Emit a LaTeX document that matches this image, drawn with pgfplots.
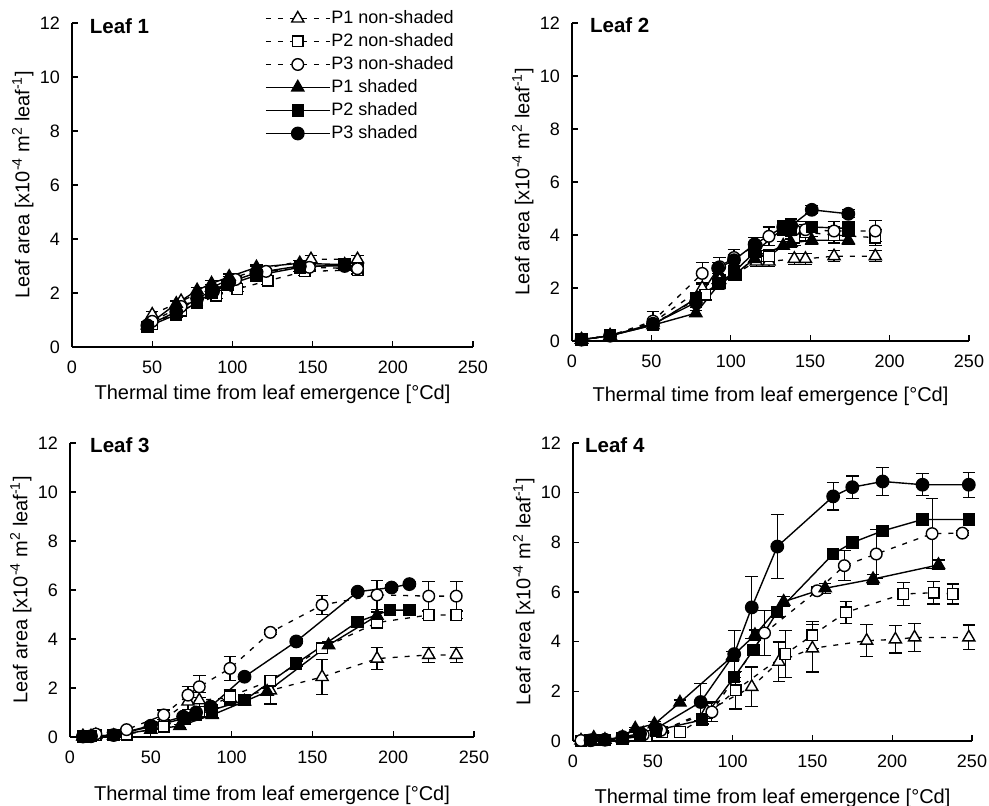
\documentclass[border=0pt]{standalone}
\usepackage{fontspec}
\setmainfont{Liberation Sans}
\usepackage{pgfplots}
\pgfplotsset{compat=1.18}
\tikzset{leaftitle/.style={anchor=west, font=\fontsize{20.5}{23}\selectfont\bfseries, inner sep=0pt}}
\pgfplotsset{
  leafax/.style={
    scale only axis, clip=false,
    xmin=0,xmax=250,ymin=0,ymax=12,
    axis x line*=bottom, axis y line*=left,
    axis line style={line width=1.3pt, -},
    xtick={0,50,...,250}, ytick={0,2,...,12},
    tick align=inside, major tick length=6pt,
    every tick/.style={line width=1.3pt, black},
    /pgf/number format/assume math mode=true,
    yticklabel style={xshift=-6pt},
    xticklabel style={yshift=-8pt},
    xlabel={Thermal time from leaf emergence [°Cd]},
    ylabel={Leaf area [x10\textsuperscript{-4} m\textsuperscript{2} leaf\textsuperscript{-1}]},
    label style={font=\fontsize{20}{23}\selectfont},
    ylabel style={yshift=-6pt},
  },
  eb/.style={error bars/.cd, y dir=both, y explicit,
    error bar style={solid, line width=1.2pt},
    error mark options={solid, line width=1.2pt, mark size=6.3pt, rotate=90}},
  ns/.style={black, line width=1.3pt, dash pattern=on 5pt off 7pt},
  sh/.style={black, line width=1.4pt, solid},
  p1n/.style={ns, mark=triangle*, mark size=7pt, mark options={solid, fill=white, line width=1.4pt}},
  p2n/.style={ns, mark=square*, mark size=5.3pt, mark options={solid, fill=white, line width=1.4pt}},
  p3n/.style={ns, mark=*, mark size=5.8pt, mark options={solid, fill=white, line width=1.4pt}},
  p1s/.style={sh, mark=triangle*, mark size=7pt, mark options={solid, fill=black}},
  p2s/.style={sh, mark=square*, mark size=5.5pt, mark options={solid, fill=black}},
  p3s/.style={sh, mark=*, mark size=6.2pt, mark options={solid, fill=black}},
}
\begin{document}
\fontsize{18}{21}\selectfont
\begin{tikzpicture}
\useasboundingbox (0pt,0pt) rectangle (989pt,806pt);
% ---------------- Leaf 1
\begin{axis}[leafax, at={(72pt,459pt)}, anchor=south west, width=401pt, height=324pt,
  xlabel style={yshift=1pt},
  legend style={at={(0.481,1.05)}, anchor=north west, draw=none, fill=none,
    inner sep=0pt, row sep=0pt, font=\fontsize{18}{21}\selectfont,
    nodes={inner xsep=1pt, inner ysep=2.5pt, text height=14pt, text depth=4pt}},
  legend cell align=left,
  legend image code/.code={\draw[#1, mark repeat=2, mark phase=2] plot coordinates {(0pt,0pt) (32pt,0pt) (64pt,0pt)};}]
\addplot[p1n, eb] table[y error=e] {
x y e
50 1.20 0.10
68 1.70 0.10
87 2.20 0.10
98 2.50 0.10
115 2.85 0.15
149 3.25 0.15
178 3.25 0.15
};
\addplot[p2n, eb] table[y error=e] {
x y e
50 0.85 0.10
68 1.35 0.10
90 1.90 0.10
103 2.15 0.10
122 2.45 0.15
145 2.80 0.15
178 2.85 0.15
};
\addplot[p3n, eb] table[y error=e] {
x y e
50 0.95 0.10
68 1.50 0.10
88 2.05 0.10
102 2.50 0.10
121 2.80 0.10
148 2.95 0.10
178 2.90 0.10
};
\addplot[p1s, eb] table[y error=e] {
x y e
47 0.80 0.10
65 1.60 0.10
78 2.10 0.10
87 2.35 0.10
98 2.60 0.10
115 2.95 0.10
142 3.10 0.10
170 3.05 0.10
};
\addplot[p2s, eb] table[y error=e] {
x y e
47 0.75 0.10
65 1.20 0.10
78 1.65 0.10
87 2.00 0.10
97 2.30 0.10
115 2.65 0.10
142 2.95 0.15
170 3.05 0.20
};
\addplot[p3s, eb] table[y error=e] {
x y e
47 0.80 0.10
65 1.30 0.10
78 1.80 0.10
88 2.10 0.10
98 2.40 0.10
115 2.75 0.10
142 3.00 0.10
170 3.00 0.10
};
\legend{P1 non-shaded, P2 non-shaded, P3 non-shaded, P1 shaded, P2 shaded, P3 shaded}
\node[leaftitle] at (axis cs:11,11.9) {Leaf 1};
\end{axis}
% ---------------- Leaf 2
\begin{axis}[leafax, at={(572pt,465pt)}, anchor=south west, width=397pt, height=318pt,
  xlabel style={yshift=-7pt}]
\addplot[p1n, eb] table[y error=e] {
x y e
6 0.05 0.05
24 0.20 0.05
51 0.70 0.10
82 2.00 0.20
93 2.30 0.20
102 2.50 0.20
116 3.00 0.20
124 3.00 0.20
140 3.10 0.20
147 3.10 0.20
165 3.20 0.20
191 3.20 0.20
};
\addplot[p2n, eb] table[y error=e] {
x y e
6 0.05 0.05
24 0.20 0.05
51 0.65 0.10
84 1.75 0.20
93 2.20 0.20
103 2.50 0.20
116 3.20 0.20
124 3.20 0.25
140 3.90 0.30
147 4.10 0.30
165 4.00 0.30
191 3.90 0.30
};
\addplot[p3n, eb] table[y error=e] {
x y e
6 0.05 0.05
24 0.20 0.05
51 0.75 0.35
82 2.55 0.40
93 2.80 0.35
102 3.15 0.30
116 3.60 0.30
124 3.95 0.35
140 4.20 0.30
147 4.20 0.30
165 4.15 0.35
191 4.15 0.40
};
\addplot[p1s, eb] table[y error=e] {
x y e
6 0.05 0.05
24 0.20 0.05
51 0.60 0.10
78 1.05 0.10
92 2.10 0.10
102 2.50 0.10
115 3.10 0.10
133 3.60 0.15
138 3.70 0.15
151 3.80 0.15
174 3.80 0.15
};
\addplot[p2s, eb] table[y error=e] {
x y e
6 0.05 0.05
24 0.20 0.05
51 0.60 0.10
78 1.60 0.20
92 2.15 0.15
102 2.60 0.15
115 3.35 0.20
133 4.25 0.25
138 4.20 0.25
151 4.30 0.20
174 4.25 0.25
};
\addplot[p3s, eb] table[y error=e] {
x y e
6 0.05 0.05
24 0.20 0.05
51 0.65 0.10
78 1.45 0.20
92 2.75 0.20
102 3.05 0.20
115 3.65 0.25
133 4.30 0.25
138 4.35 0.25
151 4.95 0.15
174 4.80 0.15
};
\node[leaftitle] at (axis cs:11.3,11.9) {Leaf 2};
\end{axis}
% ---------------- Leaf 3
\begin{axis}[leafax, at={(70pt,69pt)}, anchor=south west, width=404pt, height=294pt,
  xlabel style={yshift=-10pt}]
\addplot[p1n, eb] table[y error=e] {
x y e
8 0.02 0.02
16 0.08 0.05
35 0.15 0.05
58 0.70 0.10
73 1.45 0.35
80 1.50 0.30
99 1.60 0.30
124 1.90 0.55
156 2.45 0.70
190 3.20 0.45
222 3.35 0.30
239 3.35 0.30
};
\addplot[p2n, eb] table[y error=e] {
x y e
8 0.02 0.02
16 0.08 0.05
35 0.10 0.05
58 0.42 0.10
73 0.90 0.15
80 1.03 0.20
99 1.65 0.30
124 2.30 0.20
156 3.62 0.20
190 4.67 0.20
222 4.98 0.15
239 4.98 0.15
};
\addplot[p3n, eb] table[y error=e] {
x y e
8 0.02 0.02
16 0.12 0.05
35 0.30 0.05
58 0.90 0.20
73 1.71 0.35
80 2.05 0.45
99 2.80 0.50
124 4.27 0.10
156 5.39 0.40
190 5.80 0.60
222 5.75 0.60
239 5.75 0.60
};
\addplot[p1s, eb] table[y error=e] {
x y e
8 0.02 0.02
13 0.03 0.02
27 0.05 0.02
50 0.30 0.05
68 0.45 0.05
88 0.90 0.10
108 1.45 0.10
122 1.85 0.15
160 3.75 0.15
190 4.95 0.15
};
\addplot[p2s, eb] table[y error=e] {
x y e
8 0.02 0.02
13 0.03 0.02
27 0.08 0.02
50 0.42 0.05
71 0.76 0.10
78 0.90 0.10
88 1.10 0.10
108 1.50 0.10
140 3.00 0.10
178 4.70 0.10
198 5.18 0.10
210 5.18 0.10
};
\addplot[p3s, eb] table[y error=e] {
x y e
8 0.02 0.02
13 0.03 0.02
27 0.08 0.02
50 0.46 0.05
70 0.83 0.10
78 1.00 0.10
87 1.24 0.10
108 2.46 0.10
140 3.90 0.10
178 5.93 0.10
199 6.10 0.10
210 6.24 0.10
};
\node[leaftitle] at (axis cs:12.4,11.9) {Leaf 3};
\end{axis}
% ---------------- Leaf 4
\begin{axis}[leafax, at={(573pt,65pt)}, anchor=south west, width=399pt, height=298pt,
  xlabel style={yshift=-9pt}]
\addplot[p1n, eb] table[y error=e] {
x y e
5 0.02 0.02
13 0.05 0.02
31 0.10 0.05
44 0.30 0.05
55 0.40 0.10
84 1.20 0.30
112 2.18 0.80
129 3.19 0.80
150 3.73 0.95
184 4.04 0.65
202 4.09 0.55
214 4.17 0.55
248 4.17 0.50
};
\addplot[p2n, eb] table[y error=e] {
x y e
5 0.02 0.02
13 0.05 0.02
31 0.10 0.05
46 0.20 0.05
56 0.35 0.05
67 0.36 0.05
81 0.90 0.20
102 2.04 0.75
133 3.50 0.95
150 4.26 0.55
171 5.18 0.45
207 5.92 0.45
226 5.97 0.45
238 5.92 0.40
};
\addplot[p3n, eb] table[y error=e] {
x y e
5 0.02 0.02
13 0.05 0.02
31 0.13 0.05
44 0.25 0.05
55 0.43 0.05
87 1.17 0.40
120 4.35 0.90
153 6.05 0.15
170 7.06 0.60
190 7.53 1.00
225 8.35 1.40
244 8.37 0.10
};
\addplot[p1s, eb] table[y error=e] {
x y e
13 0.13 0.05
20 0.05 0.05
31 0.15 0.05
39 0.50 0.05
51 0.68 0.10
67 1.55 0.10
100 3.42 0.20
114 4.27 0.20
132 5.61 0.20
158 6.15 0.20
188 6.52 0.20
229 7.09 0.20
};
\addplot[p2s, eb] table[y error=e] {
x y e
11 0.03 0.02
20 0.05 0.02
31 0.10 0.05
42 0.20 0.05
52 0.43 0.05
81 0.85 0.20
101 2.58 0.20
113 3.66 0.20
128 5.20 0.20
163 7.53 0.20
175 7.99 0.20
194 8.46 0.20
219 8.92 0.20
248 8.92 0.20
};
\addplot[p3s, eb] table[y error=e] {
x y e
11 0.03 0.02
20 0.05 0.02
31 0.16 0.05
42 0.30 0.05
52 0.50 0.10
80 1.57 0.75
101 3.50 0.95
112 5.38 1.25
128 7.83 1.30
163 9.85 0.55
175 10.22 0.45
194 10.45 0.55
219 10.32 0.45
248 10.32 0.50
};
\node[leaftitle] at (axis cs:7.5,11.9) {Leaf 4};
\end{axis}
\end{tikzpicture}
\end{document}
